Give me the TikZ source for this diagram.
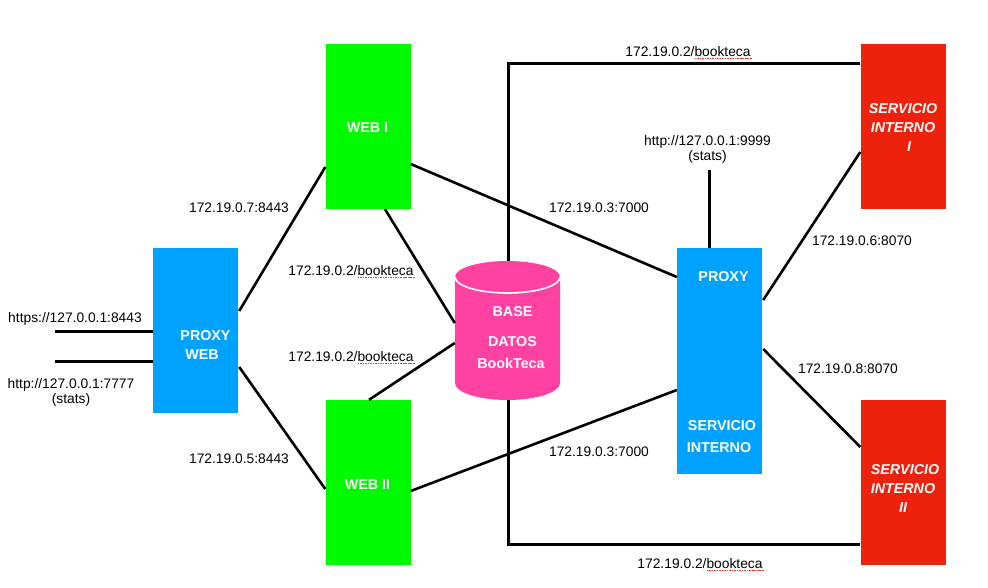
\documentclass[tikz,border=0pt]{standalone}
\usepackage{fontspec}
\setmainfont{Liberation Sans}
\definecolor{cgreen}{HTML}{00FA00}
\definecolor{cblue}{HTML}{00A2FF}
\definecolor{cred}{HTML}{EE220C}
\definecolor{cpink}{HTML}{FF42A1}
\definecolor{csq}{HTML}{F0352E}
\newcommand{\sqk}[1]{\setbox0=\hbox{#1}\rlap{\raisebox{-2.6pt}{\hbox to \dimexpr\wd0+2pt\relax{\color{csq}\xleaders\hbox{\rule{1.6pt}{1.1pt}\hskip 0.9pt}\hfil}}}\box0}
\tikzset{
  boxn/.style={rectangle,inner sep=0pt,minimum width=85pt,minimum height=165pt},
  lab/.style={font=\fontsize{13.8}{15}\selectfont,text=black,inner sep=0pt,align=center},
  wlab/.style={font=\fontsize{14.3}{19}\selectfont\bfseries,text=white,inner sep=0pt,align=center},
  wilab/.style={font=\fontsize{14.3}{19}\selectfont\bfseries\itshape,text=white,inner sep=0pt,align=center},
  conn/.style={draw=black,line width=2.6pt},
  trunk/.style={draw=black,line width=3pt},
  arcl/.style={draw=white,line width=1.6pt}
}
\begin{document}
\begin{tikzpicture}[x=1pt,y=-1pt]
\useasboundingbox (0,0) rectangle (988,587);
% boxes
\node[boxn,fill=cblue] (pw) at (195.5,330.5) {};
\node[boxn,fill=cgreen] (web1) at (368,126.5) {};
\node[boxn,fill=cgreen] (web2) at (368,482.5) {};
\node[boxn,fill=cblue,minimum height=226pt] (proxy) at (719.5,361) {};
\node[boxn,fill=cred] (s1) at (903,126.5) {};
\node[boxn,fill=cred] (s2) at (903,482.5) {};
% database
\node[rectangle,inner sep=0pt,minimum width=105pt,minimum height=139pt] (db) at (507.5,330.5) {};
\fill[cpink] (455,277) arc[start angle=180,end angle=360,x radius=52.5,y radius=16]
  -- (560,383) arc[start angle=0,end angle=180,x radius=52.5,y radius=17] -- cycle;
\draw[arcl] (455,277) arc[start angle=180,end angle=0,x radius=52.5,y radius=16];
% free ends
\coordinate (in1) at (55,331);
\coordinate (in2) at (55,361);
\coordinate (st) at (709.5,170);
% connectors
\draw[trunk] (in1) -- ([yshift=-0.5pt]pw.west);
\draw[trunk] (in2) -- ([yshift=-30.5pt]pw.west);
\draw[conn] ([xshift=1pt,yshift=19.5pt]pw.east) -- ([yshift=-40.5pt]web1.west);
\draw[conn] ([xshift=1pt,yshift=-36.5pt]pw.east) -- ([yshift=-6.5pt]web2.west);
\draw[conn] ([yshift=-37.5pt]web1.east) -- ([yshift=84pt]proxy.west);
\draw[conn] ([yshift=-8.5pt]web2.east) -- ([yshift=-29pt]proxy.west);
\draw[conn] ([xshift=17pt]web1.south) -- ([yshift=7.5pt]db.west);
\draw[conn] ([xshift=1pt]web2.north) -- ([yshift=-12.5pt]db.west);
\draw[trunk] ([xshift=1pt]db.north) |- ([yshift=63.5pt]s1.west);
\draw[trunk] ([xshift=1pt]db.south) |- ([yshift=-61.5pt]s2.west);
\draw[trunk] ([xshift=-10pt]proxy.north) -- (st);
\draw[conn] ([xshift=1pt,yshift=61pt]proxy.east) -- ([yshift=-25.5pt]s1.west);
\draw[conn] ([xshift=1pt,yshift=12pt]proxy.east) -- ([yshift=35.5pt]s2.west);
% black labels
\node[lab] (l1) at (75,318.5) {https://127.0.0.1:8443};
\node[lab] (l2) at (71,392.5) {http://127.0.0.1:7777\\(stats)};
\node[lab] (l3) at (239,207.7) {172.19.0.7:8443};
\node[lab] (l4) at (239,458.7) {172.19.0.5:8443};
\node[lab] (l5) at (351,271.5) {172.19.0.2/\sqk{bookteca}};
\node[lab] (l6) at (351,357.5) {172.19.0.2/\sqk{bookteca}};
\node[lab] (l7) at (688,52.5) {172.19.0.2/\sqk{bookteca}};
\node[lab] (l8) at (700,564.5) {172.19.0.2/\sqk{bookteca}};
\node[lab] (l9) at (599,207.7) {172.19.0.3:7000};
\node[lab] (l10) at (599,451.7) {172.19.0.3:7000};
\node[lab] (l11) at (707.5,149.2) {http://127.0.0.1:9999\\(stats)};
\node[lab] (l12) at (862,240.7) {172.19.0.6:8070};
\node[lab] (l13) at (848,368.7) {172.19.0.8:8070};
% white labels
\node[wlab] (t1) at (205.5,345) {PROXY\\\hspace*{-7pt}WEB};
\node[wlab] (t2) at (367.5,128) {WEB I};
\node[wlab] (t3) at (367.5,485) {WEB II};
\node[wlab] (t4) at (512.5,338) {BASE\\[11pt]DATOS\\[3pt]\hspace*{-3pt}BookTeca};
\node[wlab] (t5) at (723.5,277) {PROXY};
\node[wlab] (t6) at (722,437) {SERVICIO\\[3pt]\hspace*{-6pt}INTERNO};
\node[wilab] (t7) at (903,128) {SERVICIO\\INTERNO\\\hspace*{12pt}I};
\node[wilab] (t8) at (905,488) {SERVICIO\\\hspace*{-4pt}INTERNO\\\hspace*{-4pt}II};
\end{tikzpicture}
\end{document}
